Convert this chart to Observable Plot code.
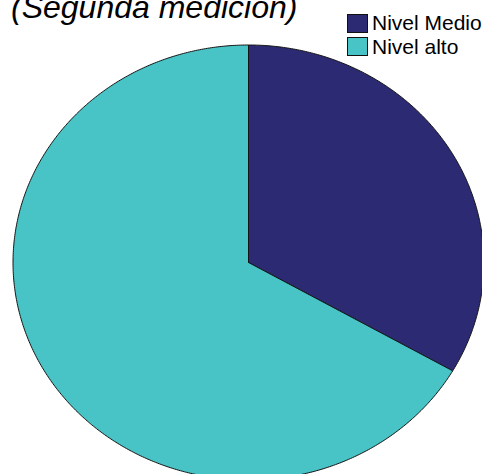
<!DOCTYPE html>
<html>
<head>
<meta charset="utf-8">
<script src="https://cdn.jsdelivr.net/npm/d3@7"></script>
<script src="https://cdn.jsdelivr.net/npm/@observablehq/plot@0.6"></script>
<style>
  html, body { margin: 0; padding: 0; background: #fff; overflow: hidden; }
  #wrap { position: relative; width: 482px; height: 474px; }
  #title { position: absolute; left: 11px; top: -9px; font-family: "Liberation Sans", Arial, sans-serif; font-style: italic; font-size: 32px; line-height: 32px; color: #000; white-space: nowrap; z-index: 2; }
  #legend { position: absolute; left: 347px; top: 13px; font-family: "Liberation Sans", Arial, sans-serif; font-size: 21px; color: #000; z-index: 2; }
  .item { display: flex; align-items: center; height: 20px; margin-bottom: 3.5px; white-space: nowrap; }
  .sw { width: 19px; height: 17px; border: 1px solid #111; margin-right: 4px; box-sizing: content-box; }
  #chart { position: absolute; left: 0; top: 0; }
</style>
</head>
<body>
<div id="wrap">
  <div id="chart"></div>
  <div id="title">(Segunda medición)</div>
  <div id="legend"></div>
</div>
<script>
const categories = ["Nivel Medio", "Nivel alto"];
const values = [33.3, 66.7];
const colors = ["#2b2a73", "#48c3c6"];
const titleText = "(Segunda medición)";

document.getElementById("title").textContent = titleText;

// slice angles from the data
const arcs = d3.pie().sort(null).value(d => d.value)(categories.map((c, i) => ({nivel: c, value: values[i]})));
const pts = [];
for (const a of arcs) {
  const n = Math.max(2, Math.ceil((a.endAngle - a.startAngle) / (Math.PI / 360)));
  pts.push({nivel: a.data.nivel, x: 0, y: 0});
  for (let k = 0; k <= n; k++) {
    const t = a.startAngle + (a.endAngle - a.startAngle) * k / n;
    pts.push({nivel: a.data.nivel, x: Math.sin(t), y: Math.cos(t)});
  }
  pts.push({nivel: a.data.nivel, x: 0, y: 0});
}

const W = 482, H = 474, cx = 248, cy = 262, rx = 235.5, ry = 217.5;
const plot = Plot.plot({
  width: W, height: H,
  margin: 0,
  x: {domain: [-cx / rx, (W - cx) / rx], axis: null},
  y: {domain: [-(H - cy) / ry, cy / ry], axis: null},
  color: {domain: categories, range: colors, legend: false},
  marks: [
    Plot.line(pts, {x: "x", y: "y", z: "nivel", fill: "nivel", stroke: "#151515", strokeWidth: 1, curve: "linear", strokeLinejoin: "round"})
  ]
});
document.getElementById("chart").appendChild(plot);

const leg = document.getElementById("legend");
categories.forEach((c, i) => {
  const it = document.createElement("div");
  it.className = "item";
  const sw = document.createElement("span");
  sw.className = "sw";
  sw.style.background = colors[i];
  const tx = document.createElement("span");
  tx.textContent = c;
  it.appendChild(sw); it.appendChild(tx);
  leg.appendChild(it);
});
</script>
</body>
</html>
